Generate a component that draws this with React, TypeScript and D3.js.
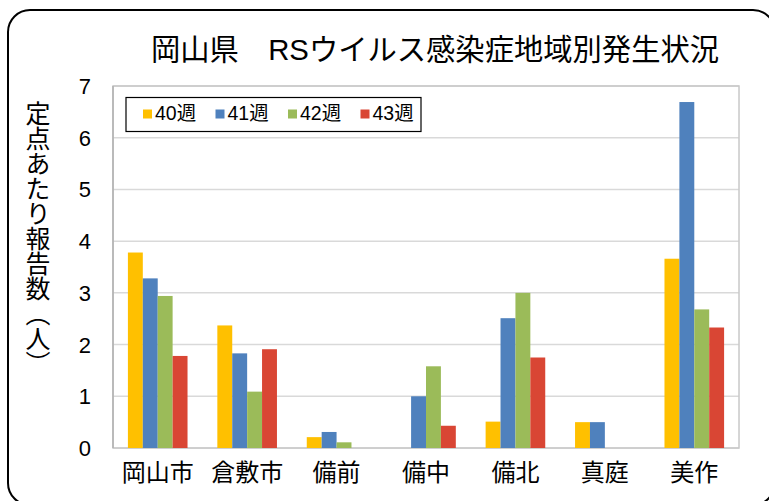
import React from "react";
import * as d3 from "d3";

const categories = ["岡山市", "倉敷市", "備前", "備中", "備北", "真庭", "美作"];
const seriesNames = ["40週", "41週", "42週", "43週"];
const week40 = [3.78, 2.37, 0.21, 0, 0.51, 0.5, 3.66];
const week41 = [3.28, 1.83, 0.31, 1.0, 2.51, 0.5, 6.69];
const week42 = [2.94, 1.09, 0.11, 1.58, 3.0, 0, 2.68];
const week43 = [1.78, 1.91, 0, 0.43, 1.75, 0, 2.33];
const yTicks = [0, 1, 2, 3, 4, 5, 6, 7];
const title = "岡山県　RSウイルス感染症地域別発生状況";
const yTitle = "定点あたり報告数（人）";

const seriesValues = [week40, week41, week42, week43];
const colors = ["#FFC000", "#4F81BD", "#9BBB59", "#D94634"];

const W = 769;
const H = 501;
const plot = { left: 113, right: 739, top: 86, bottom: 448 };
const latin = "'Liberation Sans', Arial, 'Noto Sans CJK JP', sans-serif";
const cjk = "'Noto Sans CJK JP', 'Liberation Sans', sans-serif";

export default function App() {
  const x0 = d3
    .scaleBand<string>()
    .domain(categories)
    .range([plot.left, plot.right])
    .paddingInner(1 / 3)
    .paddingOuter(1 / 6);
  const x1 = d3
    .scaleBand<string>()
    .domain(seriesNames)
    .range([0, x0.bandwidth()]);
  const y = d3.scaleLinear().domain([0, 7]).range([plot.bottom, plot.top]);

  const legendX = 143;
  const legendStep = 72.5;

  return (
    <svg
      width={W}
      height={H}
      style={{ position: "absolute", left: 0, top: 0, background: "#fff" }}
    >
      <rect x={0} y={0} width={W} height={H} fill="#fff" />
      <rect
        x={8}
        y={10}
        width={767}
        height={495}
        rx={22}
        ry={22}
        fill="#fff"
        stroke="#000"
        strokeWidth={2}
      />
      <text x={151} y={60} fontFamily={latin} fontSize={29.3} fill="#000">
        {title}
      </text>

      {/* gridlines */}
      {yTicks.map((t) => (
        <line
          key={"g" + t}
          x1={plot.left}
          x2={plot.right}
          y1={y(t)}
          y2={y(t)}
          stroke="#d9d9d9"
          strokeWidth={1.5}
        />
      ))}
      <rect
        x={plot.left}
        y={plot.top}
        width={plot.right - plot.left}
        height={plot.bottom - plot.top}
        fill="none"
        stroke="#c8c8c8"
        strokeWidth={1.5}
      />
      <line
        x1={plot.left}
        x2={plot.left}
        y1={plot.top}
        y2={plot.bottom}
        stroke="#b0b0b0"
        strokeWidth={1.5}
      />

      {/* bars */}
      {categories.map((c, ci) => (
        <g key={c} transform={`translate(${x0(c)},0)`}>
          {seriesNames.map((s, si) => {
            const v = seriesValues[si][ci];
            if (!v) return null;
            return (
              <rect
                key={s}
                x={x1(s)}
                y={y(v)}
                width={x1.bandwidth()}
                height={y(0) - y(v)}
                fill={colors[si]}
              />
            );
          })}
        </g>
      ))}

      {/* y tick labels */}
      {yTicks.map((t) => (
        <text
          key={"t" + t}
          x={91}
          y={y(t) + 8}
          textAnchor="end"
          fontFamily={latin}
          fontSize={22}
          fill="#000"
        >
          {t}
        </text>
      ))}

      {/* x labels */}
      {categories.map((c) => (
        <text
          key={"x" + c}
          x={(x0(c) as number) + x0.bandwidth() / 2}
          y={481}
          textAnchor="middle"
          fontFamily={cjk}
          fontSize={24}
          fill="#000"
        >
          {c}
        </text>
      ))}

      {/* y title */}
      <text
        x={38}
        y={101}
        fontFamily={cjk}
        fontSize={25}
        fill="#000"
        style={{ writingMode: "vertical-rl" as any }}
      >
        {yTitle}
      </text>

      {/* legend */}
      <rect
        x={126}
        y={97.5}
        width={295}
        height={34}
        fill="#fff"
        stroke="#000"
        strokeWidth={1.2}
      />
      {seriesNames.map((s, i) => (
        <g key={"l" + s} transform={`translate(${legendX + i * legendStep},0)`}>
          <rect x={0} y={109.5} width={9} height={9} fill={colors[i]} />
          <text x={12} y={119.5} fontFamily={latin} fontSize={19.5} fill="#000">
            {s}
          </text>
        </g>
      ))}
    </svg>
  );
}
